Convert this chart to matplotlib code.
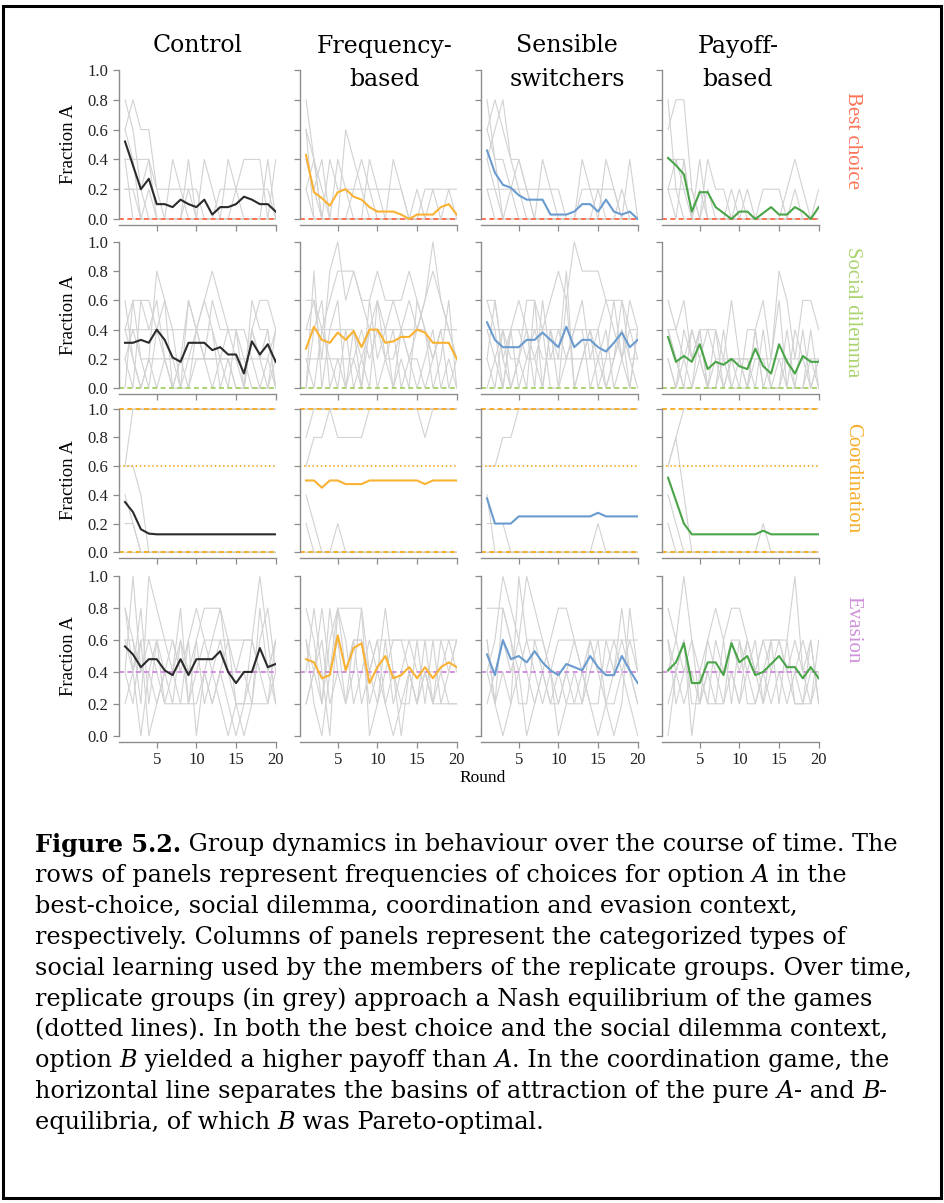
import matplotlib
matplotlib.use("Agg")
import matplotlib.pyplot as plt
from matplotlib.patches import Rectangle
import numpy as np

W, H = 945, 1203
rounds = np.arange(1, 21)

learning_types = [["Control"], ["Frequency-", "based"], ["Sensible", "switchers"], ["Payoff-", "based"]]
contexts = ["Best choice", "Social dilemma", "Coordination", "Evasion"]
type_colors = ["#2b2b2b", "#f9b233", "#6a9bcf", "#4aa448"]
context_colors = ["#ff7256", "#a9d46f", "#f8ad2a", "#cf8fdc"]

# ---- best choice: mean fraction A per round ----
mean_best_control = [0.52, 0.36, 0.20, 0.27, 0.10, 0.10, 0.08, 0.13, 0.10, 0.08,
                     0.13, 0.03, 0.08, 0.08, 0.10, 0.15, 0.13, 0.10, 0.10, 0.05]
mean_best_freq = [0.43, 0.18, 0.14, 0.09, 0.18, 0.20, 0.15, 0.13, 0.08, 0.05,
                  0.05, 0.05, 0.03, 0.00, 0.03, 0.03, 0.03, 0.08, 0.10, 0.03]
mean_best_sensible = [0.46, 0.31, 0.23, 0.21, 0.16, 0.13, 0.13, 0.13, 0.03, 0.03,
                      0.03, 0.05, 0.10, 0.10, 0.05, 0.13, 0.05, 0.03, 0.05, 0.00]
mean_best_payoff = [0.41, 0.36, 0.30, 0.05, 0.18, 0.18, 0.08, 0.04, 0.00, 0.05,
                    0.05, 0.00, 0.04, 0.08, 0.03, 0.03, 0.08, 0.05, 0.00, 0.08]

# ---- social dilemma ----
mean_sd_control = [0.31, 0.31, 0.33, 0.31, 0.40, 0.33, 0.21, 0.18, 0.31, 0.31,
                   0.31, 0.26, 0.28, 0.23, 0.23, 0.10, 0.32, 0.23, 0.30, 0.18]
mean_sd_freq = [0.27, 0.42, 0.33, 0.31, 0.38, 0.33, 0.39, 0.28, 0.40, 0.40,
                0.31, 0.32, 0.35, 0.35, 0.40, 0.38, 0.31, 0.31, 0.31, 0.20]
mean_sd_sensible = [0.45, 0.33, 0.28, 0.28, 0.28, 0.33, 0.33, 0.38, 0.33, 0.28,
                    0.42, 0.28, 0.33, 0.33, 0.28, 0.25, 0.31, 0.38, 0.28, 0.33]
mean_sd_payoff = [0.35, 0.18, 0.22, 0.18, 0.30, 0.13, 0.18, 0.16, 0.20, 0.15,
                  0.13, 0.27, 0.15, 0.10, 0.30, 0.18, 0.10, 0.22, 0.18, 0.18]

# ---- coordination ----
mean_co_control = [0.35, 0.28, 0.16, 0.13, 0.125, 0.125, 0.125, 0.125, 0.125, 0.125,
                   0.125, 0.125, 0.125, 0.125, 0.125, 0.125, 0.125, 0.125, 0.125, 0.125]
mean_co_freq = [0.50, 0.50, 0.45, 0.50, 0.50, 0.475, 0.475, 0.475, 0.50, 0.50,
                0.50, 0.50, 0.50, 0.50, 0.50, 0.475, 0.50, 0.50, 0.50, 0.50]
mean_co_sensible = [0.375, 0.20, 0.20, 0.20, 0.25, 0.25, 0.25, 0.25, 0.25, 0.25,
                    0.25, 0.25, 0.25, 0.25, 0.275, 0.25, 0.25, 0.25, 0.25, 0.25]
mean_co_payoff = [0.52, 0.36, 0.20, 0.125, 0.125, 0.125, 0.125, 0.125, 0.125, 0.125,
                  0.125, 0.125, 0.15, 0.125, 0.125, 0.125, 0.125, 0.125, 0.125, 0.125]

# ---- evasion ----
mean_ev_control = [0.56, 0.51, 0.43, 0.48, 0.48, 0.41, 0.38, 0.48, 0.38, 0.48,
                   0.48, 0.48, 0.53, 0.40, 0.33, 0.40, 0.40, 0.55, 0.43, 0.45]
mean_ev_freq = [0.48, 0.46, 0.36, 0.38, 0.63, 0.41, 0.55, 0.58, 0.33, 0.43,
                0.50, 0.36, 0.38, 0.43, 0.36, 0.43, 0.36, 0.43, 0.46, 0.43]
mean_ev_sensible = [0.51, 0.38, 0.60, 0.48, 0.50, 0.46, 0.53, 0.46, 0.41, 0.38,
                    0.45, 0.43, 0.41, 0.50, 0.43, 0.38, 0.38, 0.50, 0.41, 0.33]
mean_ev_payoff = [0.41, 0.46, 0.58, 0.33, 0.33, 0.46, 0.46, 0.38, 0.58, 0.46,
                  0.50, 0.38, 0.40, 0.45, 0.50, 0.43, 0.43, 0.36, 0.43, 0.36]

# ---- replicate groups (fraction of 5 players choosing A) ----
groups_best_control = [
    [0.8, 0.6, 0.2, 0, 0, 0, 0, 0, 0, 0, 0, 0, 0, 0, 0, 0, 0, 0, 0, 0],
    [0.6, 0.8, 0.6, 0.6, 0.2, 0.2, 0.2, 0.2, 0.2, 0, 0, 0, 0, 0, 0, 0, 0, 0, 0, 0],
    [0.4, 0.4, 0.4, 0.4, 0, 0, 0.4, 0.2, 0, 0, 0.4, 0.2, 0, 0, 0, 0, 0, 0, 0, 0],
    [0.2, 0.2, 0.2, 0.4, 0.2, 0, 0, 0, 0.2, 0.2, 0, 0, 0.2, 0.2, 0.2, 0.2, 0.2, 0.2, 0.2, 0],
    [0.6, 0.4, 0, 0, 0, 0, 0, 0, 0, 0, 0, 0, 0, 0.4, 0.2, 0.4, 0.4, 0.4, 0, 0],
    [0.4, 0, 0, 0.2, 0, 0, 0, 0, 0.4, 0, 0, 0, 0, 0, 0, 0, 0, 0, 0.4, 0],
    [0.2, 0.2, 0, 0, 0, 0, 0, 0, 0, 0, 0, 0, 0, 0, 0.2, 0, 0, 0, 0, 0.4],
]
groups_best_freq = [
    [0.8, 0.4, 0, 0, 0, 0, 0, 0, 0, 0, 0, 0, 0, 0, 0, 0, 0, 0, 0, 0],
    [0.6, 0.4, 0, 0.4, 0.2, 0.2, 0.2, 0.2, 0.2, 0.2, 0.2, 0.2, 0.2, 0, 0, 0, 0, 0, 0, 0],
    [0.4, 0.2, 0.4, 0, 0, 0.6, 0.4, 0.2, 0, 0, 0, 0, 0, 0, 0, 0, 0, 0, 0, 0],
    [0.2, 0.4, 0.2, 0, 0.4, 0.2, 0, 0, 0.4, 0.2, 0, 0, 0, 0, 0, 0, 0, 0, 0, 0],
    [0.6, 0, 0, 0, 0, 0, 0.2, 0.4, 0.2, 0, 0, 0.4, 0.2, 0, 0, 0, 0, 0, 0, 0],
    [0.4, 0.2, 0, 0, 0, 0, 0, 0, 0, 0, 0, 0, 0, 0, 0.2, 0, 0.2, 0, 0.2, 0],
    [0.2, 0, 0, 0, 0, 0, 0, 0, 0, 0, 0, 0, 0, 0, 0, 0.2, 0.2, 0.2, 0.2, 0.2],
]
groups_best_sensible = [
    [0.8, 0.4, 0, 0, 0, 0, 0, 0, 0, 0, 0, 0, 0, 0, 0, 0, 0, 0, 0, 0],
    [0.6, 0.8, 0.6, 0.4, 0.4, 0.2, 0, 0, 0, 0, 0, 0, 0, 0, 0, 0, 0, 0, 0, 0],
    [0.4, 0.6, 0.8, 0.4, 0.2, 0, 0, 0.4, 0.2, 0, 0, 0, 0, 0, 0, 0, 0, 0, 0, 0],
    [0.2, 0.2, 0.2, 0.2, 0.2, 0.2, 0.2, 0.2, 0.2, 0.2, 0, 0, 0.2, 0.2, 0.2, 0.2, 0.2, 0, 0, 0],
    [0.6, 0.4, 0.4, 0.2, 0, 0, 0, 0, 0, 0, 0, 0, 0.4, 0.2, 0, 0.4, 0.2, 0, 0, 0],
    [0.4, 0.2, 0, 0, 0, 0, 0, 0, 0, 0, 0, 0, 0, 0, 0, 0, 0, 0, 0.4, 0],
    [0.2, 0, 0, 0.2, 0.4, 0.2, 0, 0, 0, 0, 0, 0, 0, 0, 0.2, 0, 0, 0.2, 0, 0],
]
groups_best_payoff = [
    [0.6, 0.8, 0.8, 0.2, 0, 0, 0, 0, 0, 0, 0, 0, 0, 0, 0, 0, 0, 0, 0, 0],
    [0.4, 0.4, 0.4, 0, 0.4, 0, 0, 0, 0, 0, 0, 0, 0, 0, 0, 0, 0, 0, 0, 0],
    [0.2, 0.2, 0.2, 0.2, 0, 0.4, 0.2, 0.2, 0, 0, 0.2, 0, 0, 0, 0, 0, 0, 0, 0, 0],
    [0.2, 0.4, 0.2, 0, 0, 0.2, 0, 0, 0.2, 0, 0, 0, 0.2, 0.2, 0.2, 0, 0.2, 0, 0, 0.2],
    [0.8, 0.2, 0, 0, 0.2, 0, 0, 0, 0, 0.2, 0, 0, 0, 0, 0, 0.2, 0.4, 0.2, 0, 0],
    [0.2, 0, 0.4, 0, 0, 0, 0, 0, 0, 0, 0, 0, 0, 0, 0, 0, 0, 0, 0, 0],
]

groups_sd_control = [
    [0.6, 0.2, 0, 0.2, 0.8, 0.6, 0.4, 0, 0.2, 0.4, 0.6, 0.8, 0.6, 0.4, 0.4, 0.4, 0.2, 0, 0.2, 0.4],
    [0.4, 0.6, 0.6, 0.6, 0.4, 0.2, 0.2, 0, 0, 0.2, 0.2, 0.6, 0.4, 0.4, 0.2, 0, 0.4, 0.6, 0.6, 0.4],
    [0.2, 0.4, 0.4, 0.4, 0.4, 0.4, 0.4, 0.4, 0.4, 0.4, 0.2, 0.2, 0.2, 0.4, 0.4, 0.2, 0, 0, 0, 0.2],
    [0.4, 0.4, 0.2, 0.2, 0.2, 0.2, 0.2, 0.2, 0.2, 0.2, 0.2, 0.2, 0.2, 0.2, 0, 0, 0.6, 0.4, 0.4, 0],
    [0, 0.6, 0.2, 0, 0.4, 0.6, 0, 0, 0.6, 0.4, 0.4, 0.4, 0.2, 0.2, 0.2, 0.2, 0.2, 0.2, 0.2, 0],
    [0.2, 0, 0.6, 0.4, 0.6, 0.2, 0, 0.2, 0.6, 0.4, 0.2, 0, 0.2, 0, 0.4, 0, 0.4, 0.2, 0, 0.4],
    [0.4, 0.2, 0, 0.2, 0, 0.2, 0, 0.2, 0, 0.4, 0.6, 0.4, 0, 0.2, 0, 0, 0.4, 0.2, 0.4, 0],
]
groups_sd_freq = [
    [0.6, 0.6, 0.2, 0.8, 1.0, 0.6, 0.8, 0.6, 0.6, 0.8, 0.6, 0.6, 0.4, 0.2, 0.4, 0.6, 1.0, 0.6, 0.4, 0.2],
    [0.4, 0.6, 0.4, 0.6, 0.8, 0.8, 0.8, 0.6, 0.4, 0.6, 0.4, 0.6, 0.6, 0.8, 0.6, 0.4, 0.2, 0.4, 0.4, 0.4],
    [0.2, 0.2, 0.2, 0.2, 0.2, 0.2, 0.2, 0.4, 0.2, 0.4, 0.2, 0.2, 0.4, 0.6, 0.4, 0.6, 0.8, 0.6, 0.4, 0.4],
    [0.4, 0.4, 0.4, 0.4, 0.4, 0.4, 0.4, 0.2, 0.4, 0.4, 0.4, 0.4, 0.4, 0.4, 0.4, 0.4, 0.2, 0.4, 0.4, 0.2],
    [0, 0.4, 0.6, 0, 0.2, 0, 0.2, 0, 0.4, 0, 0.2, 0, 0.4, 0.2, 0, 0.2, 0.4, 0, 0.2, 0],
    [0.2, 0, 0.4, 0.2, 0, 0.4, 0, 0.2, 0, 0.6, 0.2, 0.4, 0, 0.2, 0.2, 0, 0.2, 0.4, 0, 0.2],
    [0, 0.8, 0, 0.4, 0.6, 0, 0.4, 0, 0.6, 0.2, 0.4, 0, 0.2, 0, 0.6, 0.4, 0, 0.2, 0.6, 0],
]
groups_sd_sensible = [
    [0.6, 0.6, 0.2, 0, 0.2, 0.6, 0.6, 0.4, 0.6, 0.8, 0.6, 1.0, 0.8, 0.8, 0.8, 0.6, 0.4, 0.2, 0.6, 0.4],
    [0.4, 0.4, 0.4, 0.4, 0.4, 0.4, 0.4, 0.4, 0.4, 0.4, 0.4, 0.4, 0.4, 0.4, 0.4, 0.6, 0.6, 0.6, 0.4, 0.4],
    [0.2, 0.6, 0.2, 0.4, 0, 0.2, 0.4, 0.2, 0.2, 0.2, 0.2, 0.2, 0.2, 0.2, 0.2, 0.2, 0.2, 0.4, 0.2, 0.2],
    [0, 0.2, 0.4, 0.2, 0.2, 0, 0.6, 0, 0.4, 0, 0.6, 0, 0.2, 0.4, 0, 0.2, 0.6, 0.2, 0, 0.4],
    [0.6, 0.4, 0, 0.4, 0.6, 0.4, 0, 0.6, 0.2, 0.4, 0.2, 0.4, 0.6, 0.2, 0.4, 0, 0.2, 0.6, 0.2, 0],
    [0.2, 0, 0.4, 0, 0.2, 0.4, 0.2, 0, 0.4, 0.2, 0.8, 0, 0.2, 0.4, 0.2, 0.4, 0, 0.2, 0.4, 0.2],
    [0.4, 0.2, 0, 0.4, 0.4, 0.2, 0.2, 0.4, 0, 0, 0.2, 0.4, 0.4, 0, 0.2, 0, 0.2, 0.4, 0, 0.4],
]
groups_sd_payoff = [
    [0.6, 0.4, 0.2, 0, 0.2, 0.4, 0.4, 0.2, 0.6, 0.2, 0, 0.4, 0.6, 0.2, 0.8, 0.6, 0.2, 0.6, 0.6, 0.4],
    [0.4, 0.4, 0.6, 0.2, 0.4, 0.4, 0.2, 0.2, 0.2, 0.2, 0.2, 0.2, 0.2, 0.2, 0.2, 0.2, 0.2, 0.2, 0.2, 0.2],
    [0.2, 0, 0.4, 0.2, 0.4, 0, 0.4, 0, 0.2, 0, 0.4, 0.4, 0, 0.2, 0.6, 0, 0.4, 0.2, 0, 0.2],
    [0.4, 0.2, 0, 0.4, 0.2, 0, 0, 0.4, 0, 0.2, 0.2, 0, 0.4, 0, 0, 0.2, 0, 0, 0.4, 0],
    [0.2, 0, 0.2, 0.4, 0.2, 0, 0.2, 0, 0.2, 0.2, 0, 0.4, 0, 0, 0.2, 0, 0, 0.4, 0, 0.2],
    [0.4, 0.2, 0, 0, 0.4, 0, 0, 0.2, 0, 0, 0, 0.2, 0.2, 0, 0, 0.4, 0, 0, 0.2, 0],
]

ones = [1.0] * 20
zeros = [0.0] * 20
groups_co_control = [
    [0.6] + [1.0] * 19,
    [0.6, 0.6, 0.4] + [0.0] * 17,
    [0.2, 0.2] + [0.0] * 18,
    [0.4, 0.2] + [0.0] * 18,
    ones, zeros, zeros,
]
groups_co_freq = [
    [0.8] + [1.0] * 19,
    [0.6, 0.8, 0.8, 1.0, 0.8, 0.8, 0.8, 0.8] + [1.0] * 12,
    [1.0] * 15 + [0.8] + [1.0] * 4,
    [0.4, 0.2] + [0.0] * 18,
    [0.2] + [0.0] * 19,
    [0.0] * 4 + [0.2] + [0.0] * 15,
    ones, zeros,
]
groups_co_sensible = [
    [0.6, 0.6, 0.8, 0.8] + [1.0] * 16,
    [0.4] + [0.0] * 19,
    [0.2, 0.2, 0.2] + [0.0] * 17,
    [0.0] * 14 + [0.2] + [0.0] * 5,
    ones, zeros, zeros,
]
groups_co_payoff = [
    [0.6, 0.8] + [1.0] * 18,
    [0.6, 0.8, 0.4] + [0.0] * 17,
    [0.4, 0.2] + [0.0] * 18,
    [0.2] + [0.0] * 19,
    [0.0] * 12 + [0.2] + [0.0] * 7,
    zeros,
]

groups_ev_control = [
    [0.8, 0.4, 0.8, 0.2, 0.6, 0.4, 0.4, 0.8, 0.2, 0.6, 0.8, 0.8, 0.8, 0.6, 0.4, 0.6, 0.6, 1.0, 0.6, 0.2],
    [0.4, 1.0, 0.4, 0.6, 0.6, 0.6, 0.6, 0.4, 0.4, 0.4, 0.6, 0.6, 0.6, 0.6, 0.6, 0.6, 0.6, 0.4, 0.2, 0.6],
    [0.6, 0.6, 0.2, 1.0, 0.8, 0.6, 0.4, 0.2, 0.2, 0.2, 0.4, 0.6, 0.8, 0.4, 0.2, 0.2, 0.2, 0.6, 0.8, 0.4],
    [0.2, 0.4, 0.6, 0.6, 0.4, 0.2, 0.2, 0.2, 0.6, 0, 0.4, 0.2, 0.4, 0.2, 0, 0.2, 0.4, 0.4, 0.4, 0.6],
    [0.6, 0.4, 0, 0.4, 0.2, 0.4, 0.6, 0.4, 0.6, 0.8, 0.6, 0.4, 0.2, 0, 0.2, 0, 0.2, 0.8, 0.4, 0.2],
    [0.4, 0.2, 0.6, 0, 0.2, 0.4, 0.2, 0.6, 0.4, 0.6, 0.2, 0.4, 0.6, 0.4, 0.4, 0.4, 0.2, 0.2, 0.2, 0.4],
    [0.8, 0.6, 0.4, 0.4, 0.6, 0.2, 0.4, 0.6, 0.2, 0.4, 0.4, 0.2, 0.4, 0.6, 0.2, 0.2, 0.6, 0.4, 0.4, 0.6],
]
groups_ev_freq = [
    [0.8, 0.6, 0.2, 0.6, 0.8, 0.8, 0.8, 0.8, 0.4, 0.6, 0.6, 0.6, 0.6, 0.6, 0.6, 0.6, 0.6, 0.6, 0.6, 0.6],
    [0.4, 0.8, 0.4, 0, 0.8, 0.4, 0.6, 0.6, 0.2, 0.4, 0.8, 0.4, 0.2, 0.4, 0.2, 0.6, 0.2, 0.2, 0.2, 0.2],
    [0.2, 0.4, 0.8, 0.4, 0.6, 0.2, 0.4, 0.8, 0, 0.2, 0.6, 0.2, 0.4, 0.6, 0.4, 0.4, 0.4, 0.4, 0.6, 0.4],
    [0.6, 0.2, 0, 0.4, 0.8, 0.6, 0.2, 0.4, 0.6, 0.4, 0.2, 0, 0.2, 0.2, 0.6, 0.2, 0.6, 0.2, 0.4, 0.6],
    [0.6, 0.4, 0.6, 0.2, 0.4, 0.2, 0.6, 0.2, 0.4, 0.2, 0.4, 0.6, 0.6, 0.4, 0.2, 0.4, 0.2, 0.4, 0.2, 0.2],
    [0.2, 0.4, 0.2, 0.8, 0.4, 0.4, 0.6, 0.6, 0.4, 0.6, 0.2, 0.4, 0, 0.4, 0.2, 0.4, 0.2, 0.6, 0.4, 0.6],
]
groups_ev_sensible = [
    [0.8, 0.8, 0.8, 0.6, 0.4, 0.6, 0.6, 0.6, 0.4, 0.6, 0.6, 0.6, 0.6, 0.6, 0.6, 0.6, 0.6, 0.6, 0.6, 0.6],
    [0.4, 0.6, 1.0, 0.8, 0.6, 0.4, 0.2, 0.4, 0.6, 0.8, 0.8, 0.6, 0.4, 0.2, 0, 0.2, 0.4, 0.6, 0.4, 0.2],
    [0.6, 0.2, 0, 0.2, 1.0, 0.6, 0.4, 0.2, 0.4, 0, 0.2, 0.4, 0.2, 0.6, 0.4, 0.2, 0, 0.2, 0.8, 0.4],
    [0.2, 0.4, 0.6, 0.4, 0.6, 1.0, 0.8, 0.6, 0.4, 0.2, 0.4, 0.2, 0.4, 0.6, 0.4, 0.4, 0.6, 0.4, 0.2, 0],
    [0.6, 0.2, 0.4, 0.2, 0.4, 0, 0.2, 0.4, 0.2, 0.4, 0.2, 0.2, 0.2, 0.4, 0.6, 0.2, 0.2, 0.4, 0.6, 0.4],
    [0.4, 0.2, 0.8, 0.6, 0.2, 0.2, 0.6, 0.4, 0.2, 0.2, 0.4, 0.6, 0.4, 0.2, 0.2, 0.6, 0.4, 0.8, 0.4, 0.2],
]
groups_ev_payoff = [
    [0.8, 0.6, 1.0, 0.6, 0.4, 0.6, 0.8, 0.6, 0.8, 0.8, 0.6, 0.4, 0.6, 0.6, 0.6, 0.6, 1.0, 0.4, 0.6, 0.2],
    [0.6, 0.4, 0.6, 0.2, 0.2, 0.4, 0.4, 0.4, 0.6, 0.6, 0.4, 0.6, 0.2, 0.4, 0.6, 0.4, 0.4, 0.6, 0.4, 0.4],
    [0, 0.4, 0.6, 0, 0.4, 0.2, 0.2, 0.2, 0.4, 0.2, 0.4, 0.2, 0.4, 0.2, 0.4, 0.4, 0.2, 0.2, 0.4, 0.4],
    [0.4, 0.6, 0.4, 0.4, 0.2, 0.6, 0.4, 0.2, 0.6, 0.4, 0.6, 0.4, 0.6, 0.4, 0.4, 0.2, 0.4, 0.2, 0.6, 0.2],
    [0.2, 0.4, 0.2, 0.4, 0.4, 0.2, 0.6, 0.4, 0.4, 0.2, 0.6, 0.4, 0.2, 0.6, 0.2, 0.6, 0.2, 0.2, 0.2, 0.4],
    [0.6, 0.2, 0.4, 0.6, 0.2, 0.4, 0.2, 0.6, 0.2, 0.6, 0.2, 0.2, 0.4, 0.6, 0.6, 0.4, 0.6, 0.4, 0.2, 0.6],
]

means = [
    [mean_best_control, mean_best_freq, mean_best_sensible, mean_best_payoff],
    [mean_sd_control, mean_sd_freq, mean_sd_sensible, mean_sd_payoff],
    [mean_co_control, mean_co_freq, mean_co_sensible, mean_co_payoff],
    [mean_ev_control, mean_ev_freq, mean_ev_sensible, mean_ev_payoff],
]
groups = [
    [groups_best_control, groups_best_freq, groups_best_sensible, groups_best_payoff],
    [groups_sd_control, groups_sd_freq, groups_sd_sensible, groups_sd_payoff],
    [groups_co_control, groups_co_freq, groups_co_sensible, groups_co_payoff],
    [groups_ev_control, groups_ev_freq, groups_ev_sensible, groups_ev_payoff],
]
# equilibrium lines per context: (level, style)
equilibria = [
    [(0.0, "dash")],
    [(0.0, "dash")],
    [(0.0, "dash"), (1.0, "dash"), (0.6, "dot")],
    [(0.4, "dash")],
]

caption_lines = [
    [("Figure 5.2.", "bold"), (" Group dynamics in behaviour over the course of time. The", "normal")],
    [("rows of panels represent frequencies of choices for option ", "normal"), ("A", "italic"), (" in the", "normal")],
    [("best-choice, social dilemma, coordination and evasion context,", "normal")],
    [("respectively. Columns of panels represent the categorized types of", "normal")],
    [("social learning used by the members of the replicate groups. Over time,", "normal")],
    [("replicate groups (in grey) approach a Nash equilibrium of the games", "normal")],
    [("(dotted lines). In both the best choice and the social dilemma context,", "normal")],
    [("option ", "normal"), ("B", "italic"), (" yielded a higher payoff than ", "normal"), ("A", "italic"),
     (". In the coordination game, the", "normal")],
    [("horizontal line separates the basins of attraction of the pure ", "normal"), ("A", "italic"),
     ("- and ", "normal"), ("B", "italic"), ("-", "normal")],
    [("equilibria, of which ", "normal"), ("B", "italic"), (" was Pareto-optimal.", "normal")],
]

plt.rcParams["lines.scale_dashes"] = False
serif_plot = "Liberation Serif"
serif_text = "DejaVu Serif"

fig = plt.figure(figsize=(W / 100, H / 100), dpi=100)

# panel geometry in pixels
col_left = [119, 300, 481, 662]
col_width = 157.5
row_box = [(64, 225), (236, 394), (403, 558), (570, 742)]
xlim = (0.24, 20.1)
axis_grey = "#8c8c8c"

for r in range(4):
    top, bottom = row_box[r]
    for c in range(4):
        ax = fig.add_axes([col_left[c] / W, 1 - bottom / H, col_width / W, (bottom - top) / H])
        for g in groups[r][c]:
            ax.plot(rounds, g, color="#d2d2d2", lw=0.8, zorder=1)
        for level, style in equilibria[r]:
            dashes = (3.5, 2.5) if style == "dash" else (1.0, 2.0)
            ax.axhline(level, color=context_colors[r], lw=1.4, dashes=dashes, zorder=2)
        ax.plot(rounds, means[r][c], color=type_colors[c], lw=1.5, zorder=3)

        ax.set_xlim(*xlim)
        ax.set_ylim(-0.04, 1.04)
        for s in ("top", "right"):
            ax.spines[s].set_visible(False)
        ax.spines["left"].set_bounds(0, 1)
        ax.spines["bottom"].set_bounds(xlim[0], 20)
        for s in ("left", "bottom"):
            ax.spines[s].set_color(axis_grey)
            ax.spines[s].set_linewidth(1.0)
        ax.set_yticks(np.linspace(0, 1, 6))
        ax.set_xticks([5, 10, 15, 20])
        ax.tick_params(colors=axis_grey, length=4, width=0.9, labelcolor="#222222",
                       labelsize=12)
        for lab in ax.get_xticklabels() + ax.get_yticklabels():
            lab.set_family(serif_plot)
        if c == 0:
            ax.set_yticklabels([f"{v:.1f}" for v in np.linspace(0, 1, 6)])
            ax.set_ylabel("Fraction A", family=serif_plot, fontsize=13.5, labelpad=8)
        else:
            ax.set_yticklabels([])
        if r < 3:
            ax.set_xticklabels([])

# column titles, one or two lines each
title_x = [198, 385, 567, 738]
title_y = [46, 80]
for c, lines in enumerate(learning_types):
    for i, line in enumerate(lines):
        fig.text(title_x[c] / W, 1 - title_y[i] / H, line, ha="center", va="center",
                 family=serif_text, fontsize=17)

# context labels down the right-hand side
label_y = [140, 312, 478, 630]
for r, name in enumerate(contexts):
    fig.text(853 / W, 1 - label_y[r] / H, name, rotation=-90, ha="center", va="center",
             family=serif_plot, fontsize=15, color=context_colors[r])

fig.text(483 / W, 1 - 778 / H, "Round", ha="center", va="center", family=serif_plot,
         fontsize=12.5)

# caption with mixed bold / italic runs
renderer = fig.canvas.get_renderer()
y0, step = 845, 30.8
for i, parts in enumerate(caption_lines):
    x = 35 / W
    y = 1 - (y0 + i * step) / H
    for text, style in parts:
        kw = dict(family=serif_text, fontsize=17.2, va="center", ha="left")
        if style == "bold":
            kw["fontweight"] = "bold"
        elif style == "italic":
            kw["fontstyle"] = "italic"
        t = fig.text(x, y, text, **kw)
        x += t.get_window_extent(renderer=renderer).width / W

fig.patches.append(Rectangle((3 / W, 5 / H), 938 / W, 1192 / H, transform=fig.transFigure,
                             fill=False, edgecolor="black", lw=2.2))

fig.savefig("out.png", dpi=100)
